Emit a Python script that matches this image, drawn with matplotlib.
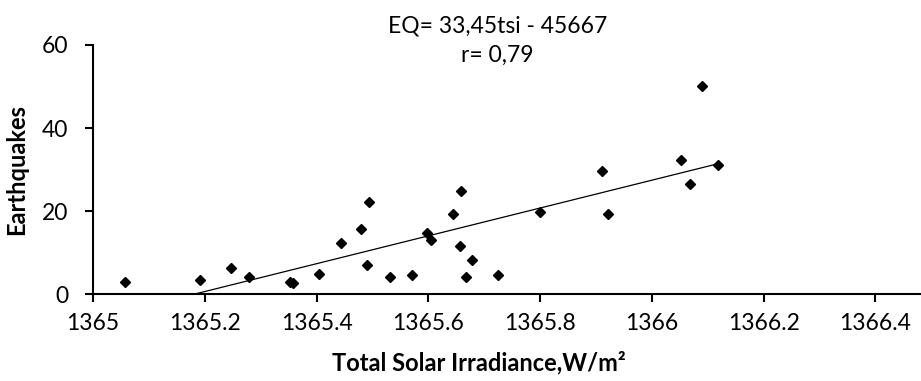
import numpy as np
import matplotlib.pyplot as plt

# total solar irradiance (W/m2) and yearly earthquake counts
tsi = [1365.058, 1365.192, 1365.247, 1365.279, 1365.353, 1365.358, 1365.404,
       1365.443, 1365.480, 1365.493, 1365.490, 1365.531, 1365.571, 1365.597,
       1365.604, 1365.644, 1365.658, 1365.657, 1365.679, 1365.668, 1365.724,
       1365.800, 1365.910, 1365.922, 1366.053, 1366.069, 1366.090, 1366.118]
quakes = [3.0, 3.4, 6.3, 4.2, 3.0, 2.7, 4.8,
          12.2, 15.7, 22.2, 6.9, 4.1, 4.5, 14.8,
          12.9, 19.4, 24.8, 11.6, 8.2, 4.1, 4.7,
          19.7, 29.6, 19.3, 32.3, 26.5, 50.0, 31.2]

x_ticks = [1365, 1365.2, 1365.4, 1365.6, 1365.8, 1366, 1366.2, 1366.4]
x_ticklabels = ['1365', '1365.2', '1365.4', '1365.6', '1365.8', '1366', '1366.2', '1366.4']
y_ticks = [0, 20, 40, 60]

plt.rcParams['font.family'] = ['Lato', 'DejaVu Sans']

fig = plt.figure(figsize=(9.21, 3.81), dpi=100)
ax = fig.add_axes([0.101, 0.2283, 0.898, 0.6536])

ax.plot(tsi, quakes, linestyle='none', marker='D', markersize=4.6,
        color='black', clip_on=False, zorder=3)

# linear trend over the data range
slope, intercept = np.polyfit(tsi, quakes, 1)
xs = np.array([min(tsi), max(tsi)])
ax.plot(xs, slope * xs + intercept, color='black', linewidth=0.9)

ax.set_xlim(1365, 1366.48)
ax.set_ylim(0, 60)
ax.set_xticks(x_ticks)
ax.set_xticklabels(x_ticklabels)
ax.set_yticks(y_ticks)

for side in ['top', 'right']:
    ax.spines[side].set_visible(False)
for side in ['left', 'bottom']:
    ax.spines[side].set_linewidth(1.5)
ax.tick_params(axis='both', which='major', length=6, width=1.5, labelsize=16.5)
ax.tick_params(axis='x', pad=8)
ax.tick_params(axis='y', pad=12)

ax.set_xlabel('Total Solar Irradiance,W/m²', fontsize=17, fontweight='bold')
ax.xaxis.set_label_coords(0.466, -0.23)
ax.set_ylabel('Earthquakes', fontsize=17, fontweight='bold')
ax.yaxis.set_label_coords(-0.078, 0.5)

fig.text(0.54, 0.933, 'EQ= 33,45tsi - 45667', ha='center', va='center', fontsize=16.5)
fig.text(0.54, 0.856, 'r= 0,79', ha='center', va='center', fontsize=16.5)

fig.savefig('out.png', dpi=100)
